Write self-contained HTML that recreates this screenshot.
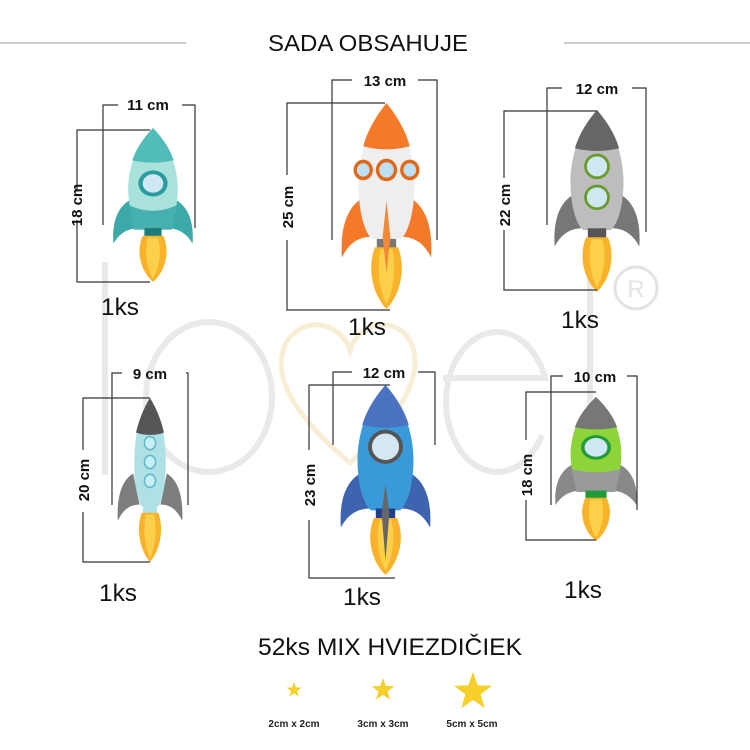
<!DOCTYPE html>
<html><head><meta charset="utf-8"><style>
html,body{margin:0;padding:0;background:#fff}
svg{display:block}
text{font-family:"Liberation Sans",sans-serif}
.d{font-weight:bold;font-size:15px;fill:#111}
.k{font-size:24px;fill:#111}
.ln{stroke:#333;stroke-width:1.2;fill:none}
</style></head><body>
<svg width="750" height="750" viewBox="0 0 750 750">
<defs>
<g id="fl"><path d="M50,200 C35,185 30,160 38,140 L62,140 C70,160 65,185 50,200Z" fill="#f9b32a"/><path d="M50,195 C42,180 40,160 44,142 L56,142 C60,160 58,180 50,195Z" fill="#fcd04a"/></g>
</defs>
<!-- watermark -->
<g fill="none" stroke="#e9e9e9" stroke-width="6">
<line x1="105" y1="262" x2="105" y2="475"/>
<ellipse cx="209" cy="397" rx="63" ry="75"/>
<path d="M443,378 L545,378 A51,70 0 1 0 542,435"/>
<line x1="590" y1="258" x2="590" y2="475"/>
</g>
<path d="M350,463 C300,420 270,380 285,345 C300,315 340,320 350,350 C360,320 400,315 412,345 C425,380 395,420 350,463Z" fill="none" stroke="#f8eed6" stroke-width="5"/>
<circle cx="636" cy="288" r="21" fill="none" stroke="#e3e3e3" stroke-width="3"/>
<text x="636" y="297" font-size="24" text-anchor="middle" fill="#e3e3e3">R</text>
<!-- header -->
<line x1="0" y1="43" x2="186" y2="43" stroke="#bbb" stroke-width="1.5"/>
<line x1="564" y1="43" x2="750" y2="43" stroke="#bbb" stroke-width="1.5"/>
<text x="268" y="51" font-size="23" textLength="200" lengthAdjust="spacingAndGlyphs" fill="#111">SADA OBSAHUJE</text>

<!-- Rocket1 teal -->
<g transform="translate(110,128) scale(0.86,0.77)">
<path d="M26,92 C10,100 2,120 4,150 C12,135 22,130 35,130Z M74,92 C90,100 98,120 96,150 C88,135 78,130 65,130Z" fill="#3aa9a8"/>
<path d="M50,0 C72,25 82,60 78,95 C76,115 70,128 65,132 L35,132 C30,128 24,115 22,95 C18,60 28,25 50,0Z" fill="#a8e2da"/>
<path d="M50,0 C62,14 70,28 74,42 C58,46 42,46 26,42 C30,28 38,14 50,0Z" fill="#52bcb8"/>
<path d="M22,100 C40,110 60,110 78,100 L72,132 L28,132Z" fill="#46b0ae"/>
<rect x="40" y="130" width="20" height="12" fill="#1c7c7c"/>
<use href="#fl"/>
<circle cx="50" cy="72" r="17" fill="#2a9ca0"/><circle cx="50" cy="72" r="12" fill="#cfe8f6"/>
</g>
<g class="ln"><path d="M103,225 V105 H118 M182,105 H195 V228 M150,130 H77 V190 M77,220 V282 H150"/></g>
<text class="d" x="148" y="110" text-anchor="middle">11 cm</text>
<text class="d" transform="translate(82,205) rotate(-90)" text-anchor="middle">18 cm</text>
<text class="k" x="101" y="315" textLength="38" lengthAdjust="spacingAndGlyphs">1ks</text>

<!-- Rocket2 orange -->
<g transform="translate(338,103) scale(0.97,1.03)">
<path d="M26,92 C10,100 2,120 4,150 C12,135 22,130 35,130Z M74,92 C90,100 98,120 96,150 C88,135 78,130 65,130Z" fill="#f47a2a"/>
<path d="M50,0 C72,25 82,60 78,95 C76,115 70,128 65,132 L35,132 C30,128 24,115 22,95 C18,60 28,25 50,0Z" fill="#eeeeee"/>
<path d="M50,0 C62,14 70,28 74,42 C58,46 42,46 26,42 C30,28 38,14 50,0Z" fill="#f47a2a"/>
<rect x="40" y="132" width="20" height="9" fill="#777"/>
<use href="#fl"/>
<path d="M50,95 L54,130 L50,165 L46,130Z" fill="#f08a3a"/>
<circle cx="50" cy="65" r="11" fill="#e06a1a"/><circle cx="50" cy="65" r="7.5" fill="#bfe0f2"/>
<circle cx="26" cy="65" r="10" fill="#e06a1a"/><circle cx="26" cy="65" r="6.5" fill="#bfe0f2"/>
<circle cx="74" cy="65" r="10" fill="#e06a1a"/><circle cx="74" cy="65" r="6.5" fill="#bfe0f2"/>
</g>
<g class="ln"><path d="M332,240 V80 H352 M418,80 H437 V240 M385,103 H287 V175 M287,240 V310 H390"/></g>
<text class="d" x="385" y="86" text-anchor="middle">13 cm</text>
<text class="d" transform="translate(293,207) rotate(-90)" text-anchor="middle">25 cm</text>
<text class="k" x="348" y="335" textLength="38" lengthAdjust="spacingAndGlyphs">1ks</text>

<!-- Rocket3 gray -->
<g transform="translate(551,110) scale(0.92,0.91)">
<path d="M26,92 C10,100 2,120 4,150 C12,135 22,130 35,130Z M74,92 C90,100 98,120 96,150 C88,135 78,130 65,130Z" fill="#777"/>
<path d="M50,0 C72,25 82,60 78,95 C76,115 70,128 65,132 L35,132 C30,128 24,115 22,95 C18,60 28,25 50,0Z" fill="#bdbdbd"/>
<path d="M50,0 C62,14 70,28 74,42 C58,46 42,46 26,42 C30,28 38,14 50,0Z" fill="#666"/>
<rect x="40" y="130" width="20" height="10" fill="#555"/>
<use href="#fl"/>
<circle cx="50" cy="62" r="14" fill="#6a9a2a"/><circle cx="50" cy="62" r="11" fill="#cde8f2"/>
<circle cx="50" cy="96" r="14" fill="#6a9a2a"/><circle cx="50" cy="96" r="11" fill="#cde8f2"/>
</g>
<g class="ln"><path d="M547,225 V88 H562 M632,88 H646 V232 M597,111 H504 V178 M504,230 V290 H597"/></g>
<text class="d" x="597" y="94" text-anchor="middle">12 cm</text>
<text class="d" transform="translate(510,205) rotate(-90)" text-anchor="middle">22 cm</text>
<text class="k" x="561" y="328" textLength="38" lengthAdjust="spacingAndGlyphs">1ks</text>

<!-- Rocket4 light blue -->
<g transform="translate(115,398) scale(0.70,0.82)">
<path d="M26,92 C10,100 2,120 4,150 C12,135 22,130 35,130Z M74,92 C90,100 98,120 96,150 C88,135 78,130 65,130Z" fill="#7d7d7d"/>
<path d="M50,0 C70,25 74,60 72,95 C70,115 66,128 62,132 L38,132 C34,128 30,115 28,95 C26,60 30,25 50,0Z" fill="#aee0e6"/>
<path d="M50,0 C60,14 66,28 70,42 C58,46 42,46 30,42 C34,28 40,14 50,0Z" fill="#555"/>
<rect x="40" y="130" width="20" height="12" fill="#aee0e6"/>
<use href="#fl"/>
<circle cx="50" cy="55" r="9" fill="#5fb8c8"/><circle cx="50" cy="55" r="7" fill="#c6eef4"/>
<circle cx="50" cy="78" r="9" fill="#5fb8c8"/><circle cx="50" cy="78" r="7" fill="#c6eef4"/>
<circle cx="50" cy="101" r="9" fill="#5fb8c8"/><circle cx="50" cy="101" r="7" fill="#c6eef4"/>
</g>
<g class="ln"><path d="M112,505 V373 H122 M186,373 H188 V505 M150,398 H83 V450 M83,512 V562 H150"/></g>
<text class="d" x="150" y="379" text-anchor="middle">9 cm</text>
<text class="d" transform="translate(89,480) rotate(-90)" text-anchor="middle">20 cm</text>
<text class="k" x="99" y="601" textLength="38" lengthAdjust="spacingAndGlyphs">1ks</text>

<!-- Rocket5 blue -->
<g transform="translate(337,385) scale(0.97,0.95)">
<path d="M26,92 C10,100 2,120 4,150 C12,135 22,130 35,130Z M74,92 C90,100 98,120 96,150 C88,135 78,130 65,130Z" fill="#3e64b0"/>
<path d="M50,0 C72,25 82,60 78,95 C76,115 70,128 65,132 L35,132 C30,128 24,115 22,95 C18,60 28,25 50,0Z" fill="#3a9ad9"/>
<path d="M50,0 C62,14 70,28 74,42 C58,46 42,46 26,42 C30,28 38,14 50,0Z" fill="#4a72c0"/>
<rect x="40" y="130" width="20" height="10" fill="#1f3f8a"/>
<use href="#fl"/>
<path d="M50,105 L54,135 L50,185 L46,135Z" fill="#666"/>
<circle cx="50" cy="65" r="18" fill="#555"/><circle cx="50" cy="65" r="14" fill="#d4e8f4"/>
</g>
<g class="ln"><path d="M333,445 V372 H352 M418,372 H435 V445 M390,385 H309 V450 M309,520 V578 H395"/></g>
<text class="d" x="384" y="378" text-anchor="middle">12 cm</text>
<text class="d" transform="translate(315,485) rotate(-90)" text-anchor="middle">23 cm</text>
<text class="k" x="343" y="605" textLength="38" lengthAdjust="spacingAndGlyphs">1ks</text>

<!-- Rocket6 green -->
<g transform="translate(552,397) scale(0.88,0.72)">
<path d="M26,92 C10,100 2,120 4,150 C12,135 22,130 35,130Z M74,92 C90,100 98,120 96,150 C88,135 78,130 65,130Z" fill="#888"/>
<path d="M50,0 C72,25 82,60 78,95 C76,115 70,128 65,132 L35,132 C30,128 24,115 22,95 C18,60 28,25 50,0Z" fill="#8cd43a"/>
<path d="M50,0 C62,14 70,28 74,42 C58,46 42,46 26,42 C30,28 38,14 50,0Z" fill="#777"/>
<path d="M22,100 C40,106 60,106 78,100 L72,132 L28,132Z" fill="#999"/>
<rect x="38" y="130" width="24" height="12" fill="#1e9a3a"/>
<use href="#fl"/>
<circle cx="50" cy="70" r="17" fill="#1e9a3a"/><circle cx="50" cy="70" r="13" fill="#cde8f2"/>
</g>
<g class="ln"><path d="M551,505 V376 H563 M627,376 H637 V510 M596,392 H526 V440 M526,500 V540 H596"/></g>
<text class="d" x="595" y="382" text-anchor="middle">10 cm</text>
<text class="d" transform="translate(532,475) rotate(-90)" text-anchor="middle">18 cm</text>
<text class="k" x="564" y="598" textLength="38" lengthAdjust="spacingAndGlyphs">1ks</text>

<!-- stars -->
<text x="258" y="655" font-size="24" textLength="264" lengthAdjust="spacingAndGlyphs" fill="#111">52ks MIX HVIEZDIČIEK</text>
<g fill="#f7cf2a">
<polygon transform="translate(294,690) scale(8)" points="0,-1 0.24,-0.33 0.95,-0.31 0.38,0.12 0.59,0.81 0,0.4 -0.59,0.81 -0.38,0.12 -0.95,-0.31 -0.24,-0.33"/>
<polygon transform="translate(383,690) scale(12)" points="0,-1 0.24,-0.33 0.95,-0.31 0.38,0.12 0.59,0.81 0,0.4 -0.59,0.81 -0.38,0.12 -0.95,-0.31 -0.24,-0.33"/>
<polygon transform="translate(473,692) scale(20)" points="0,-1 0.24,-0.33 0.95,-0.31 0.38,0.12 0.59,0.81 0,0.4 -0.59,0.81 -0.38,0.12 -0.95,-0.31 -0.24,-0.33"/>
</g>
<g font-size="10" font-weight="bold" fill="#222" text-anchor="middle">
<text x="294" y="727">2cm x 2cm</text>
<text x="383" y="727">3cm x 3cm</text>
<text x="472" y="727">5cm x 5cm</text>
</g>
</svg>
</body></html>
